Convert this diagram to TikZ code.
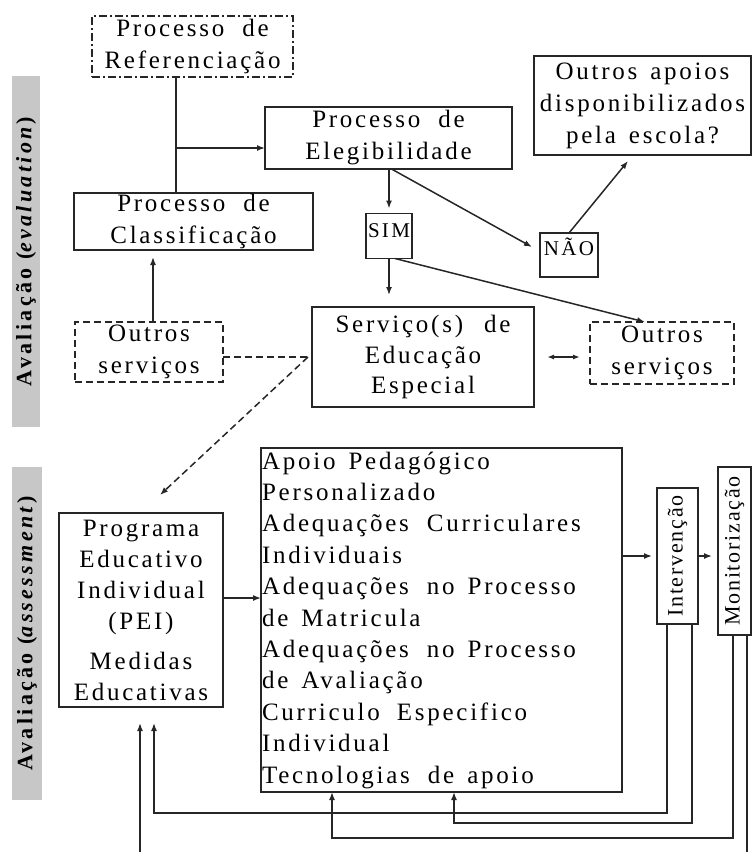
\documentclass[tikz,border=0pt]{standalone}
\usepackage{fontspec}
\usepackage{graphicx}
\setmainfont{Liberation Serif}
\newfontfamily\spacedfont[LetterSpace=11]{Liberation Serif}
\newfontfamily\rotfont[LetterSpace=8]{Liberation Serif}
\newfontfamily\barfont[LetterSpace=15]{Liberation Serif}
\usetikzlibrary{arrows.meta,calc}

\begin{document}
\begin{tikzpicture}[x=1pt,y=1pt,
  every node/.style={inner sep=0pt, outer sep=0pt},
  box/.style={draw=black!85, line width=1.6pt, align=center, font=\spacedfont\fontsize{25}{32}\selectfont,
    execute at begin node={\spaceskip=13pt\relax}},
  dashbox/.style={box, dash pattern=on 7pt off 4pt},
  dotbox/.style={box, dash pattern=on 8pt off 3pt on 2pt off 3pt},
  smallbox/.style={draw=black!85, line width=1.6pt, font=\spacedfont\fontsize{21}{22}\selectfont},
  rotbox/.style={draw=black!85, line width=1.6pt, font=\rotfont\fontsize{22}{26}\selectfont},
  bar/.style={fill=black!22, font=\barfont\bfseries\fontsize{22}{26}\selectfont},
  conn/.style={draw=black!85, line width=1.5pt},
  arr/.style={conn, -{Latex[length=8pt,width=6pt]}},
  darr/.style={conn, {Latex[length=7pt,width=5pt]}-{Latex[length=7pt,width=5pt]}},
  dashline/.style={dash pattern=on 7pt off 4pt}
]
\useasboundingbox (0,0) rectangle (752,-852);
\clip (0,0) rectangle (752,-852);

% side labels
\node[bar, minimum width=28, minimum height=351] (lab1) at (26,-251.5) {\rotatebox{90}{Avaliação (\textit{evaluation})}};
\node[bar, minimum width=30, minimum height=333] (lab2) at (27,-633.5) {\rotatebox{90}{Avaliação (\textit{assessment})}};

% boxes
\node[dotbox, minimum width=201, minimum height=61] (ref) at (192.5,-46.5) {Processo\hspace{18pt}de\\Referenciação};
\node[box, minimum width=247, minimum height=62] (eleg) at (388.5,-138) {Processo\hspace{18pt}de\\Elegibilidade};
\node[box, minimum width=239, minimum height=57] (clas) at (193.5,-221.5) {Processo\hspace{18pt}de\\Classificação};
\node[box, minimum width=217, minimum height=99] (apoios) at (642.5,-105.5) {Outros apoios\\disponibilizados\\pela escola?};
\node[smallbox, minimum width=46, minimum height=45, text height=24, text depth=21] (sim) at (389,-236) {SIM};
\node[smallbox, minimum width=58, minimum height=44, text height=22, text depth=22] (nao) at (569,-255) {NÃO};
\node[box, minimum width=222, minimum height=100, font=\spacedfont\fontsize{25}{30.5}\selectfont] (serv) at (423,-357) {Serviço(s)\hspace{21pt}de\\Educação\\Especial};
\node[dashbox, minimum width=144, minimum height=62] (outR) at (662,-353) {Outros\\serviços};
\node[dashbox, minimum width=148, minimum height=60] (outL) at (149,-352) {Outros\\serviços};
\node[box, minimum width=164, minimum height=194, font=\spacedfont\fontsize{25}{31}\selectfont] (pei) at (141,-610) {Programa\\Educativo\\Individual\\(PEI)\\[9pt]Medidas\\Educativas};
\node[box, align=left, text width=359, inner xsep=1pt, minimum height=344, font=\spacedfont\fontsize{25}{31.4}\selectfont] (big) at (441.5,-620) {Apoio Pedagógico\\Personalizado\\Adequações\hspace{5pt} Curriculares\\Individuais\\Adequações\hspace{5pt} no Processo\\de Matricula\\Adequações\hspace{5pt} no Processo\\de Avaliação\\Curriculo\hspace{4pt} Especifico\\Individual\\Tecnologias\hspace{5pt} de apoio};
\node[rotbox, minimum width=41, minimum height=136] (int) at (677.5,-556) {\rotatebox{90}{Intervenção}};
\node[rotbox, minimum width=33, minimum height=168] (mon) at (734.5,-551) {\rotatebox{90}{Monitorização}};

% routing levels
\coordinate (j) at (176,-148);
\coordinate (f1) at (0,-813);
\coordinate (f2) at (0,-823);
\coordinate (f3) at (0,-838);
\coordinate (f4) at (0,-870);

% connectors
\draw[conn] (ref.south -| j) -- (clas.north -| j);
\draw[arr] (j) -- (j -| eleg.west);
\draw[arr, shorten >=5pt] (eleg.south -| sim.north) -- (sim.north);
\draw[arr] ([xshift=3pt]eleg.south) -- ([xshift=-8pt,yshift=8pt]nao.west);
\draw[arr] (nao.north) -- ([xshift=-14.5pt,yshift=-6pt]apoios.south);
\draw[arr, shorten >=12pt] (sim.south) -- (sim.south |- serv.north);
\draw[arr] ([xshift=6pt]sim.south) -- ([xshift=-17pt]outR.north);
\draw[darr, shorten <=13pt, shorten >=10pt] (serv.east) -- (serv.east -| outR.west);
\draw[arr, shorten >=7pt] ([xshift=4pt]outL.north) -- ([xshift=4pt]outL.north |- clas.south);
\draw[conn, dashline] (serv.west -| outL.east) -- (serv.west);
\draw[arr, dashline] ([xshift=-4pt]serv.west) -- ([xshift=19pt,yshift=18pt]pei.north);
\draw[arr] ([yshift=12pt]pei.east) -- ([yshift=12pt]pei.east -| big.west);
\draw[arr, shorten >=5pt] (int.west -| big.east) -- (int.west);
\draw[arr, shorten >=6pt] (int.east) -- (int.east -| mon.west);

% feedback loops
\draw[arr, shorten >=16pt] ([xshift=-10.5pt]int.south) |- ([xshift=13pt]pei.south |- f1) -- ([xshift=13pt]pei.south);
\draw[arr] ([xshift=14.5pt]int.south) |- ([xshift=12.5pt]big.south |- f2) -- ([xshift=12.5pt]big.south);
\draw[arr] ([xshift=-1.5pt]mon.south) |- ([xshift=-109.5pt]big.south |- f3) -- ([xshift=-109.5pt]big.south);
\draw[arr, shorten >=16pt] ([xshift=12.5pt]mon.south) |- ([xshift=-1pt]pei.south |- f4) -- ([xshift=-1pt]pei.south);
\end{tikzpicture}
\end{document}
